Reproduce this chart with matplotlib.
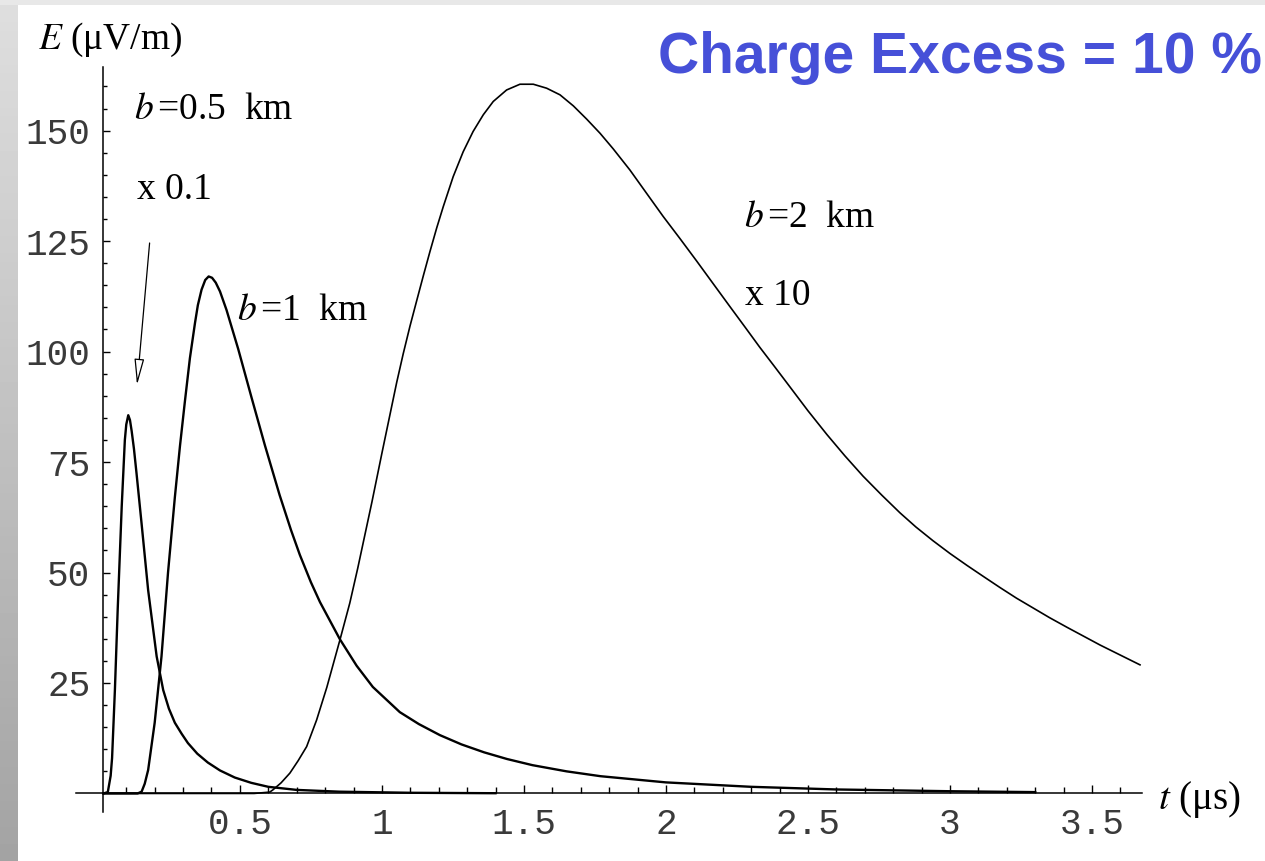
import numpy as np
import matplotlib
matplotlib.use("Agg")
from matplotlib import pyplot as plt

plt.rcParams['mathtext.fontset'] = 'stix'

# --- data: t in microseconds, E in microvolt per metre ---
t_b05 = [0.02, 0.035, 0.045, 0.05, 0.06, 0.07, 0.084, 0.095, 0.1, 0.107,
         0.113, 0.119, 0.127, 0.136, 0.154, 0.177, 0.207, 0.23, 0.25, 0.271,
         0.295, 0.317, 0.35, 0.387, 0.43, 0.482, 0.54, 0.6, 0.7, 0.85,
         1.1, 1.4]
E_b05 = [0, 0.3, 4, 8, 23.5, 42, 65, 80, 83.5, 85.6,
         84.5, 82, 78, 72.5, 61, 46, 31, 23.4, 19.2, 16,
         13.5, 11.4, 9, 7, 5.2, 3.6, 2.4, 1.5, 0.8, 0.4,
         0.15, 0.05]

t_b1 = [0.02, 0.14, 0.154, 0.165, 0.177, 0.2, 0.224, 0.247, 0.271, 0.289,
        0.306, 0.324, 0.342, 0.352, 0.365, 0.378, 0.39, 0.402, 0.415, 0.43,
        0.453, 0.494, 0.541, 0.588, 0.64, 0.68, 0.711, 0.75, 0.782, 0.852,
        0.911, 0.968, 1.063, 1.13, 1.204, 1.28, 1.36, 1.44, 1.53, 1.65,
        1.77, 2.0, 2.3, 2.6, 3.0, 3.3]
E_b1 = [0, 0, 0.4, 2.2, 5.3, 16, 31, 50, 67, 78.6,
        88.5, 98.5, 106.5, 110.5, 114, 116.2, 117, 116.7, 115.6, 113.6,
        109.4, 100.6, 89.6, 78.8, 67.5, 59.6, 54, 47.8, 43.3, 34.9,
        28.9, 24.1, 18.4, 15.7, 13.2, 11.1, 9.3, 7.8, 6.4, 5.0,
        3.9, 2.5, 1.5, 0.9, 0.5, 0.3]

t_b2 = [0.02, 0.55, 0.605, 0.616, 0.645, 0.676, 0.705, 0.735, 0.77, 0.806,
        0.852, 0.887, 0.915, 0.965, 1.0, 1.052, 1.075, 1.099, 1.122, 1.146,
        1.169, 1.193, 1.216, 1.251, 1.286, 1.321, 1.357, 1.392, 1.439, 1.486,
        1.533, 1.58, 1.627, 1.674, 1.721, 1.768, 1.814, 1.873, 1.932, 1.99,
        2.049, 2.108, 2.167, 2.225, 2.28, 2.33, 2.38, 2.426, 2.5, 2.567,
        2.63, 2.694, 2.76, 2.824, 2.88, 2.94, 3.0, 3.06, 3.12, 3.176,
        3.234, 3.292, 3.35, 3.412, 3.47, 3.528, 3.6, 3.669]
E_b2 = [0, 0, 0.3, 0.8, 2.4, 4.6, 7.4, 10.6, 16.6, 24,
        34.7, 43.1, 51, 66, 77, 93, 99.5, 105.8, 111.4, 117.2,
        122.6, 128, 132.8, 139.6, 145.2, 149.8, 153.6, 156.6, 159.2, 160.5,
        160.5, 159.6, 158.1, 155.6, 152.6, 149.4, 145.9, 141.1, 135.8, 130.6,
        125.6, 120.5, 115.3, 110.2, 105.4, 101, 96.8, 92.9, 86.6, 81.2,
        76.4, 71.8, 67.5, 63.5, 60.3, 57.2, 54.3, 51.6, 49.0, 46.6,
        44.2, 42.0, 39.8, 37.6, 35.6, 33.6, 31.3, 29.1]

x_major = [0.5, 1, 1.5, 2, 2.5, 3, 3.5]
x_labels = ['0.5', '1', '1.5', '2', '2.5', '3', '3.5']
y_major = [25, 50, 75, 100, 125, 150]
y_labels = ['25', '50', '75', '100', '125', '150']

W, H = 1265, 861
fig = plt.figure(figsize=(W / 100, H / 100), dpi=100)
fig.patch.set_facecolor('white')


def fx(px):
    return px / W


def fy(py):
    return 1 - py / H


# grey slide frame: light strip on top, shaded strip on the left
top = fig.add_axes([0, fy(5), 1, 5 / H])
top.set_axis_off()
top.imshow([[0.91, 0.91]], cmap='gray', vmin=0, vmax=1, aspect='auto')
side = fig.add_axes([0, 0, fx(18), fy(5)])
side.set_axis_off()
side.imshow(np.linspace(0.87, 0.64, 100)[:, None], cmap='gray', vmin=0, vmax=1,
            aspect='auto')

ax = fig.add_axes([fx(76), fy(812), fx(1142) - fx(76), fy(67) - fy(812)])
ax.set_xlim(-0.077, 3.676)
ax.set_ylim(-4.2, 164.4)

for t, E, lw in [(t_b05, E_b05, 1.7), (t_b1, E_b1, 1.7), (t_b2, E_b2, 1.2)]:
    ax.plot(t, E, color='black', lw=lw, solid_joinstyle='round')

for side_name in ['top', 'right']:
    ax.spines[side_name].set_visible(False)
ax.spines['left'].set_position(('data', 0.018))
ax.spines['bottom'].set_position(('data', 0))
for s in ['left', 'bottom']:
    ax.spines[s].set_linewidth(1.1)

mono = dict(family='Liberation Mono', size=26, color='#3a3a3a')
ax.set_xticks(x_major)
ax.set_xticklabels(x_labels, **mono)
ax.set_xticks(np.arange(0.1, 3.65, 0.1), minor=True)
ax.set_yticks(y_major)
ax.set_yticklabels(y_labels, **mono)
ax.set_yticks(np.arange(5, 161, 5), minor=True)
ax.tick_params(axis='both', which='both', direction='in', color='black')
ax.tick_params(axis='x', which='major', length=6, width=1, pad=10)
ax.tick_params(axis='x', which='minor', length=4, width=1)
ax.tick_params(axis='y', which='major', length=5, width=1, pad=9)
ax.tick_params(axis='y', which='minor', length=3, width=1)

# arrow pointing at the b=0.5 km peak
ax.annotate('', xy=(0.137, 91.8), xytext=(0.183, 125.2),
            arrowprops=dict(arrowstyle='-|>,head_length=0.8,head_width=0.15',
                            mutation_scale=20, fc='white', ec='black', lw=0.9))

serif = dict(family='Liberation Serif', size=27, color='black')
fig.text(fx(38), fy(40), r'$E$ (μV/m)', va='center', ha='left', **serif)
fig.text(fx(1158), fy(800), r'$t$ (μs)', va='center', ha='left',
         family='Liberation Serif', size=28, color='black')
fig.text(fx(134), fy(110), r'$b\,$=0.5  km', va='center', ha='left', **serif)
fig.text(fx(137), fy(190), 'x 0.1', va='center', ha='left', **serif)
fig.text(fx(237), fy(311), r'$b\,$=1  km', va='center', ha='left', **serif)
fig.text(fx(744), fy(218), r'$b\,$=2  km', va='center', ha='left', **serif)
fig.text(fx(745), fy(296), 'x 10', va='center', ha='left', **serif)

fig.text(fx(658), fy(73), 'Charge Excess = 10 %', ha='left', va='baseline',
         family='Liberation Sans', weight='bold', size=41, color='#4650d8')

fig.savefig('out.png', dpi=100)
